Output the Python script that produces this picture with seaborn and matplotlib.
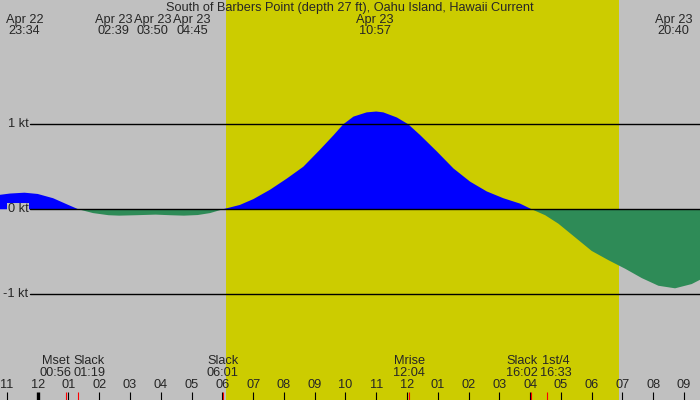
import numpy as np
import pandas as pd
import seaborn as sns
import matplotlib
matplotlib.use("Agg")
import matplotlib.pyplot as plt

# current speed (kt), hours from midnight Apr 23
hours = [-1.225, -0.9, -0.43, 0.0, 0.5, 1.0, 1.32, 1.8, 2.3, 2.65, 3.2, 3.83,
         4.3, 4.75, 5.2, 5.6, 6.02, 6.57, 7.01, 7.55, 8.09, 8.63, 9.17, 9.61,
         9.93, 10.26, 10.69, 11.0, 11.23, 11.67, 12.04, 12.42, 12.97, 13.51,
         14.05, 14.59, 15.13, 15.67, 16.05, 16.49, 16.92, 17.46, 18.0, 18.55,
         19.09, 19.63, 20.17, 20.71, 21.25, 21.52]
speed = [0.17, 0.185, 0.195, 0.18, 0.13, 0.05, 0.0, -0.045, -0.07, -0.075, -0.07, -0.063,
         -0.07, -0.075, -0.068, -0.045, 0.0, 0.051, 0.12, 0.23, 0.36, 0.50, 0.70, 0.87,
         1.0, 1.09, 1.14, 1.15, 1.14, 1.08, 1.0, 0.875, 0.68, 0.48,
         0.325, 0.21, 0.13, 0.067, 0.0, -0.07, -0.17, -0.33, -0.49, -0.60,
         -0.70, -0.81, -0.90, -0.93, -0.88, -0.83]

sunrise, sunset = 6.12, 18.89

# max / min current events (top labels)
top_times = [-0.433, 2.65, 3.833, 4.75, 10.95, 20.667]
top_dates = ["Apr 22", "Apr 23", "Apr 23", "Apr 23", "Apr 23", "Apr 23"]
top_clock = ["23:34", "02:39", "03:50", "04:45", "10:57", "20:40"]

# slack / moon events (bottom labels)
bot_times = [0.933, 1.317, 6.017, 12.067, 16.033, 16.55]
bot_names = ["Mset", "Slack", "Slack", "Mrise", "Slack", "1st/4"]
bot_clock = ["00:56", "01:19", "06:01", "12:04", "16:02", "16:33"]

kt_levels = [1, 0, -1]
kt_labels = ["1 kt", "0 kt", "-1 kt"]

title = "South of Barbers Point (depth 27 ft), Oahu Island, Hawaii Current"

GRAY = "#c0c0c0"
YELLOW = "#cccc00"
BLUE = "#0000ff"
GREEN = "#2e8b57"

sns.set_style("white")
plt.rcParams['font.family'] = ['Liberation Sans', 'DejaVu Sans']
FS = 9.2

df = pd.DataFrame({"hour": hours, "speed": speed})

W, H = 700, 400
fig = plt.figure(figsize=(7, 4), dpi=100, facecolor=GRAY)
ax = fig.add_axes([0, 0, 1, 1], facecolor=GRAY)
xmin, xmax = -1.225, 21.52
ax.set_xlim(xmin, xmax)
ax.set_ylim(-2.244, 2.462)
for s in ax.spines.values():
    s.set_visible(False)
ax.set_xticks([])
ax.set_yticks([])

px_per_hour = W / (xmax - xmin)

ax.axvspan(sunrise, sunset, color=YELLOW, lw=0, zorder=0)

ax.fill_between(df["hour"], df["speed"], 0, where=df["speed"] >= 0,
                interpolate=True, color=BLUE, lw=0, zorder=2)
ax.fill_between(df["hour"], df["speed"], 0, where=df["speed"] <= 0,
                interpolate=True, color=GREEN, lw=0, zorder=2)

for lev, lab in zip(kt_levels, kt_labels):
    ax.axhline(lev, xmin=30 / W, xmax=1, color="black", lw=1, zorder=3)
    ax.text(xmin + 28.5 / px_per_hour, lev, lab, ha="right", va="center",
            fontsize=FS, zorder=4,
            bbox=dict(fc=GRAY, ec="none", pad=0.2))

xt = ax.get_xaxis_transform()


def yf(py):
    return 1 - py / H


def spread(xs, gap):
    # push overlapping labels apart (in pixels)
    p = [x * px_per_hour for x in xs]
    for _ in range(60):
        for i in range(len(p) - 1):
            d = p[i + 1] - p[i]
            if d < gap:
                m = (gap - d) / 2
                p[i] -= m
                p[i + 1] += m
    return [v / px_per_hour for v in p]


ax.text((xmin + xmax) / 2, yf(8), title, transform=xt, ha="center",
        va="center", fontsize=FS)

for x, d, c in zip(spread(top_times, 39), top_dates, top_clock):
    ax.text(x, yf(19.5), d, transform=xt, ha="center", va="center", fontsize=FS)
    ax.text(x, yf(31), c, transform=xt, ha="center", va="center", fontsize=FS)

for x, n, c in zip(spread(bot_times, 33.5), bot_names, bot_clock):
    ax.text(x, yf(361.5), n, transform=xt, ha="center", va="center", fontsize=FS)
    ax.text(x, yf(373), c, transform=xt, ha="center", va="center", fontsize=FS)

# hour ticks along the bottom
for h in range(-1, 22):
    lab = "%02d" % ((h % 12) or 12)
    ax.text(h, yf(385), lab, transform=xt, ha="center", va="center", fontsize=FS)
    ax.vlines(h, 0, 8 / H, transform=xt, color="black",
              lw=2.4 if h % 24 == 0 else 0.8, zorder=5)
ax.vlines(bot_times, 0, 8 / H, transform=xt, color="red", lw=0.8, zorder=5)

fig.savefig("out.png", dpi=100, facecolor=GRAY)
